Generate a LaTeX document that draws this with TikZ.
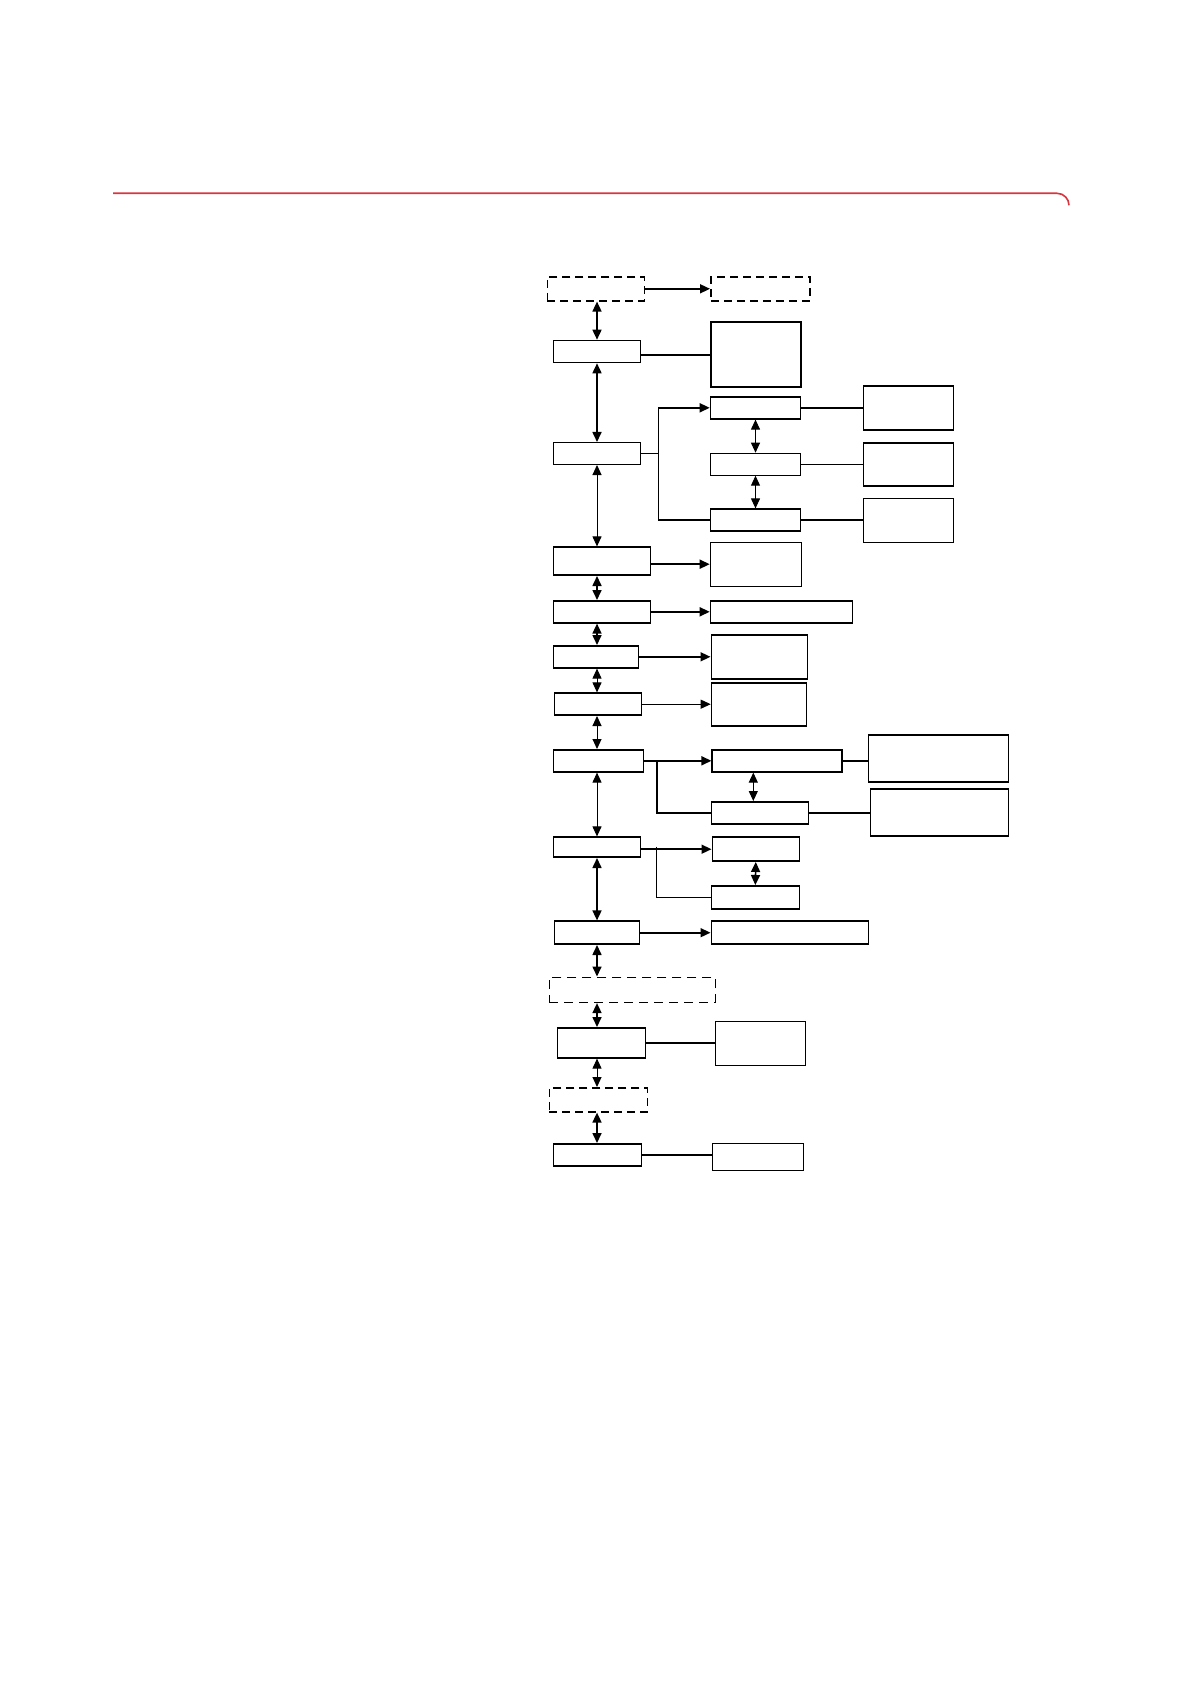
\documentclass[tikz,border=0pt]{standalone}
\usetikzlibrary{arrows.meta}
\definecolor{rulered}{RGB}{217,52,63}
\tikzset{
  box/.style={draw, line width=0.8pt, inner sep=0pt},
  thinbox/.style={box, line width=0.5pt},
  dbox/.style={box, dash pattern=on 4pt off 2.5pt},
  link/.style={line width=0.8pt},
  thinlink/.style={line width=0.5pt}
}

\begin{document}
\begin{tikzpicture}[x=0.5pt, y=-0.5pt,
  >={Triangle[length=5pt,width=4.5pt]}
]
\useasboundingbox (0,0) rectangle (1190,1684);

% red rule at the top
\draw[rulered, line width=0.8pt] (113,193.3) -- (1057,193.3)
  arc[start angle=-90, end angle=0, radius=12];

% main column
\node[dbox, minimum width=48.5pt, minimum height=12pt] (top) at (595.8,288.8) {};
\node[box, minimum width=43.5pt, minimum height=11pt] (s1) at (597,351.5) {};
\node[thinbox, minimum width=43.5pt, minimum height=11pt] (s2) at (596.7,453.5) {};
\node[box, minimum width=48.5pt, minimum height=14pt] (s3) at (601.8,561.2) {};
\node[box, minimum width=48.5pt, minimum height=11pt] (s4) at (601.8,611.8) {};
\node[box, minimum width=42.5pt, minimum height=11pt] (s5) at (595.8,656.8) {};
\node[box, minimum width=43.5pt, minimum height=11pt] (s6) at (597.8,704.2) {};
\node[box, minimum width=45pt, minimum height=11pt] (s7) at (598.3,760.8) {};
\node[box, minimum width=43.5pt, minimum height=10pt] (s8) at (596.8,847.2) {};
\node[box, minimum width=42.5pt, minimum height=11.5pt] (s9) at (596.8,932.7) {};
\node[dbox, dash pattern=on 4.5pt off 3pt, minimum width=83pt, minimum height=12.5pt] (s10) at (632.3,989.8) {};
\node[box, minimum width=44pt, minimum height=15pt] (s11) at (601.3,1042.8) {};
\node[dbox, minimum width=49pt, minimum height=12pt] (s12) at (598.3,1099.8) {};
\node[box, minimum width=44pt, minimum height=11pt] (s13) at (597.3,1154.8) {};

% second column
\node[dbox, minimum width=49.5pt, minimum height=12pt] (topr) at (760.3,288.8) {};
\node[box, minimum width=45pt, minimum height=32.5pt] (d1) at (755.8,354.8) {};
\node[box, minimum width=45pt, minimum height=11pt] (f1) at (755.5,407.8) {};
\node[thinbox, minimum width=45pt, minimum height=11pt] (f2) at (755.5,464.2) {};
\node[box, minimum width=45pt, minimum height=11pt] (f3) at (755.5,520.2) {};
\node[thinbox, minimum width=45.5pt, minimum height=22pt] (d3) at (755.7,564.2) {};
\node[box, minimum width=71pt, minimum height=11pt] (d4) at (781.5,611.8) {};
\node[box, minimum width=48pt, minimum height=22pt] (d5) at (759.3,657.2) {};
\node[box, minimum width=47.5pt, minimum height=21.5pt] (d6) at (759,704.3) {};
\node[box, minimum width=65pt, minimum height=11pt] (q1) at (777.2,760.8) {};
\node[box, minimum width=48.5pt, minimum height=11pt] (q2) at (759.8,812.8) {};
\node[box, minimum width=43.5pt, minimum height=12pt] (t1) at (755.8,849.2) {};
\node[box, minimum width=44pt, minimum height=11.5pt] (t2) at (755.3,897.3) {};
\node[box, minimum width=78.5pt, minimum height=11.5pt] (d9) at (789.8,932.7) {};
\node[thinbox, minimum width=45pt, minimum height=22pt] (d11) at (760.5,1043.5) {};
\node[box, minimum width=45.5pt, minimum height=13.5pt] (d13) at (757.8,1157) {};

% third column
\node[box, minimum width=45pt, minimum height=22pt] (g1) at (908.3,408.2) {};
\node[box, minimum width=45pt, minimum height=21.5pt] (g2) at (908.3,464.3) {};
\node[box, minimum width=45pt, minimum height=22pt] (g3) at (908.3,520.5) {};
\node[box, minimum width=70pt, minimum height=23.5pt] (r1) at (938.5,758.3) {};
\node[box, minimum width=69pt, minimum height=23.5pt] (r2) at (939.5,812.7) {};

% links down the main column
\coordinate (spine) at (597,0);
\draw[link, <->] (spine |- top.south) -- (spine |- s1.north);
\draw[link, <->] (spine |- s1.south) -- (spine |- s2.north);
\draw[thinlink, <->] (spine |- s2.south) -- (spine |- s3.north);
\draw[link, <->] (spine |- s3.south) -- (spine |- s4.north);
\draw[link, <->] (spine |- s4.south) -- (spine |- s5.north);
\draw[thinlink, <->] (spine |- s5.south) -- (spine |- s6.north);
\draw[thinlink, <->] (spine |- s6.south) -- (spine |- s7.north);
\draw[thinlink, <->] (spine |- s7.south) -- (spine |- s8.north);
\draw[link, <->] (spine |- s8.south) -- (spine |- s9.north);
\draw[link, <->] (spine |- s9.south) -- (spine |- s10.north);
\draw[link, <->] (spine |- s10.south) -- (spine |- s11.north);
\draw[thinlink, <->] (spine |- s11.south) -- (spine |- s12.north);
\draw[link, <->] (spine |- s12.south) -- (spine |- s13.north);

% links to the right
\draw[link, ->] (top.east) -- (topr.west);
\draw[link] (s1.east |- d1) -- (d1.west);
\draw[link, ->] (s3.east |- d3) -- (d3.west);
\draw[link, ->] (s4.east) -- (d4.west);
\draw[link, ->] (s5.east) -- (s5.east -| d5.west);
\draw[thinlink, ->] (s6.east) -- (s6.east -| d6.west);
\draw[link, ->] (s9.east) -- (d9.west);
\draw[link] (s11.east) -- (s11.east -| d11.west);
\draw[link] (s13.east) -- (s13.east -| d13.west);

% branch off s2
\coordinate (br2) at (658.3,453.5);
\draw[thinlink] (s2.east) -- (br2);
\draw[link, ->] (f3.west) -| (br2) |- (f1.west);
\draw[thinlink, <->] (f1.south) -- (f2.north);
\draw[thinlink, <->] (f2.south) -- (f3.north);
\draw[link] (f1.east) -- (f1.east -| g1.west);
\draw[thinlink] (f2.east) -- (f2.east -| g2.west);
\draw[link] (f3.east) -- (f3.east -| g3.west);

% branch off s7
\coordinate (br7) at (656.7,760.8);
\coordinate (qx) at (753.3,0);
\draw[link, ->] (s7.east) -- (q1.west);
\draw[link] (br7) |- (q2.west);
\draw[thinlink, <->] (qx |- q1.south) -- (qx |- q2.north);
\draw[link] (q1.east) -- (q1.east -| r1.west);
\draw[link] (q2.east) -- (q2.east -| r2.west);

% branch off s8
\coordinate (br8) at (656.7,846.7);
\draw[link, ->] (s8.east |- t1) -- (t1.west);
\draw[thinlink] (br8) |- (t2.west);
\draw[link, <->] (t1.south) -- (t2.north);
\end{tikzpicture}
\end{document}
